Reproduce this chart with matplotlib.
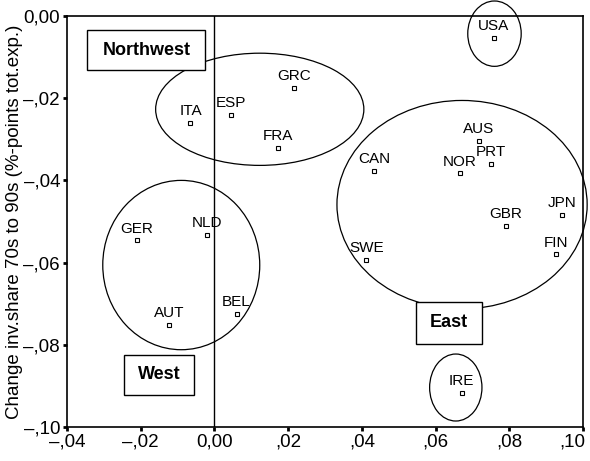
import matplotlib
matplotlib.use('Agg')
import matplotlib.pyplot as plt
import matplotlib.transforms as mtransforms
from matplotlib.patches import Ellipse, Rectangle
from matplotlib.ticker import FuncFormatter

plt.rcParams['font.family'] = ['Liberation Sans', 'DejaVu Sans']

# Countries: change in capital share of expenditure (x) vs investment share (y)
countries = ['ITA', 'ESP', 'GRC', 'FRA', 'USA', 'AUS', 'CAN', 'NOR', 'PRT',
             'GBR', 'JPN', 'FIN', 'SWE', 'IRE', 'GER', 'NLD', 'AUT', 'BEL']
x_vals = [-0.0065, 0.0044, 0.0216, 0.0172, 0.0758, 0.0717, 0.0434, 0.0666, 0.0750,
          0.0791, 0.0944, 0.0928, 0.0412, 0.0671, -0.0210, -0.0019, -0.0123, 0.0060]
y_vals = [-0.0261, -0.0241, -0.0176, -0.0322, -0.0054, -0.0305, -0.0378, -0.0383, -0.0361,
          -0.0510, -0.0483, -0.0580, -0.0593, -0.0917, -0.0546, -0.0532, -0.0751, -0.0724]

# Cluster outlines: centre, width, height
ell_cx = [0.0123, -0.0090, 0.0672, 0.0760, 0.0655]
ell_cy = [-0.0227, -0.0606, -0.0459, -0.0043, -0.0904]
ell_w = [0.0565, 0.0426, 0.0679, 0.0145, 0.0142]
ell_h = [0.0273, 0.0412, 0.0507, 0.0159, 0.0163]

# Group label boxes: text, left, bottom, width, height
box_text = ['Northwest', 'West', 'East']
box_x = [-0.0345, -0.0246, 0.0546]
box_y = [-0.0132, -0.0922, -0.0797]
box_w = [0.0320, 0.0191, 0.0180]
box_h = [0.0098, 0.0098, 0.0100]

fig = plt.figure(figsize=(5.9, 4.61), dpi=100)
ax = fig.add_axes([0.1136, 0.0738, 0.8744, 0.8915])

ax.plot(x_vals, y_vals, linestyle='none', marker='s', markersize=3.5,
        mfc='white', mec='black', mew=0.8, zorder=3)
for name, x, y in zip(countries, x_vals, y_vals):
    ax.annotate(name, (x, y), xytext=(0, 3.5), textcoords='offset points',
                ha='center', va='bottom', fontsize=11)

for cx, cy, w, h in zip(ell_cx, ell_cy, ell_w, ell_h):
    ax.add_patch(Ellipse((cx, cy), w, h, fill=False, edgecolor='black',
                         linewidth=0.9, clip_on=False, zorder=2))

ax.axvline(0, color='black', linewidth=1.0, zorder=1)

for t, bx, by, bw, bh in zip(box_text, box_x, box_y, box_w, box_h):
    ax.add_patch(Rectangle((bx, by), bw, bh, facecolor='white', edgecolor='black',
                           linewidth=1.0, zorder=4))
    ax.text(bx + bw / 2, by + bh / 2, t, ha='center', va='center',
            fontsize=13, fontweight='bold', zorder=5)

ax.set_xlim(-0.04, 0.10)
ax.set_ylim(-0.10, 0.0)
ax.set_xticks([-0.04, -0.02, 0.0, 0.02, 0.04, 0.06, 0.08, 0.10])
ax.set_yticks([-0.10, -0.08, -0.06, -0.04, -0.02, 0.0])


def comma_fmt(v, pos):
    if abs(v) < 1e-9:
        return '0,00'
    s = f'{abs(v):.2f}'[1:].replace('.', ',')
    return ('\u2013' + s) if v < 0 else s


ax.xaxis.set_major_formatter(FuncFormatter(comma_fmt))
ax.yaxis.set_major_formatter(FuncFormatter(comma_fmt))
ax.tick_params(direction='out', length=3, width=2, labelsize=13.5, pad=2)

# nudge the last x label inward so it stays on the canvas
last = ax.get_xticklabels()[-1]
last.set_transform(last.get_transform() +
                   mtransforms.ScaledTranslation(-8 / 72, 0, fig.dpi_scale_trans))

for sp in ax.spines.values():
    sp.set_linewidth(1.2)

ax.set_ylabel('Change inv.share 70s to 90s (%-points tot.exp.)', fontsize=13.5, labelpad=0)

fig.savefig('out.png', dpi=100)
